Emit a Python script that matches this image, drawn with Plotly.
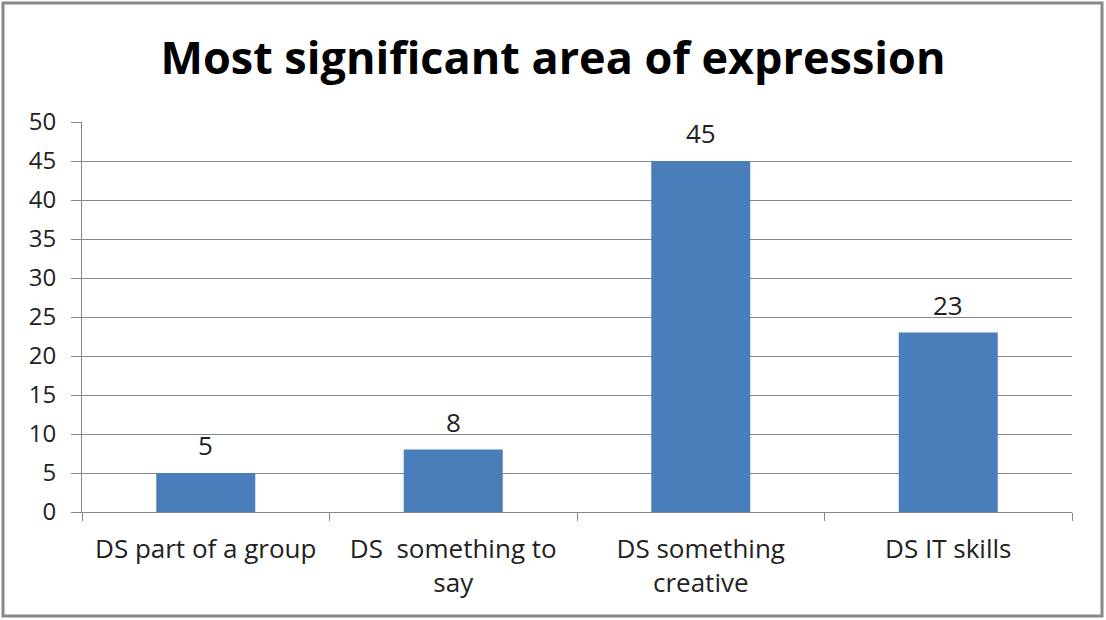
import plotly.graph_objects as go

categories = ["DS part of a group", "DS  something to<br>say", "DS something<br>creative", "DS IT skills"]
values = [5, 8, 45, 23]
y_ticks = [0, 5, 10, 15, 20, 25, 30, 35, 40, 45, 50]

W, H = 1106, 620
L, R, T, B = 82, 34, 122, 108
pw, ph = W - L - R, H - T - B

font_family = "Open Sans, sans-serif"

fig = go.Figure(go.Bar(
    x=categories, y=values,
    marker=dict(color="#4a7ebb", line=dict(width=0)),
    width=0.4,
))

for c, v in zip(categories, values):
    fig.add_annotation(x=c, y=v, text=str(v), showarrow=False, yanchor="bottom", yshift=8,
                       font=dict(size=26, color="#222222", family=font_family))

fig.update_layout(
    width=W, height=H,
    margin=dict(l=L, r=R, t=T, b=B, pad=0),
    paper_bgcolor="white", plot_bgcolor="white",
    title=dict(text="<b>Most significant area of expression</b>", x=0.5, xanchor="center",
               y=1 - 58 / H, yanchor="middle",
               font=dict(size=45, color="black", family=font_family)),
    font=dict(family=font_family, color="#222222"),
    showlegend=False,
    xaxis=dict(
        showline=True, linecolor="#888888", linewidth=1,
        ticks="outside", tickson="boundaries", ticklen=8, tickcolor="#888888",
        tickfont=dict(size=26, color="#222222"),
        ticklabelstandoff=14,
        showgrid=False,
    ),
    yaxis=dict(
        range=[0, 50], tickvals=y_ticks,
        showline=True, linecolor="#888888", linewidth=1,
        ticks="outside", ticklen=10, tickcolor="#888888",
        showgrid=True, gridcolor="#888888", gridwidth=1,
        tickfont=dict(size=24, color="#222222"),
        ticklabelstandoff=10,
        zeroline=False,
    ),
    shapes=[dict(type="rect", xref="paper", yref="paper",
                 x0=(3 - L) / pw, x1=(W - 4 - L) / pw,
                 y0=-(H - 4 - T - ph) / ph, y1=1 + (T - 3) / ph,
                 line=dict(color="#888888", width=3), fillcolor="rgba(0,0,0,0)", layer="below")],
)

fig.write_html("out.html")
